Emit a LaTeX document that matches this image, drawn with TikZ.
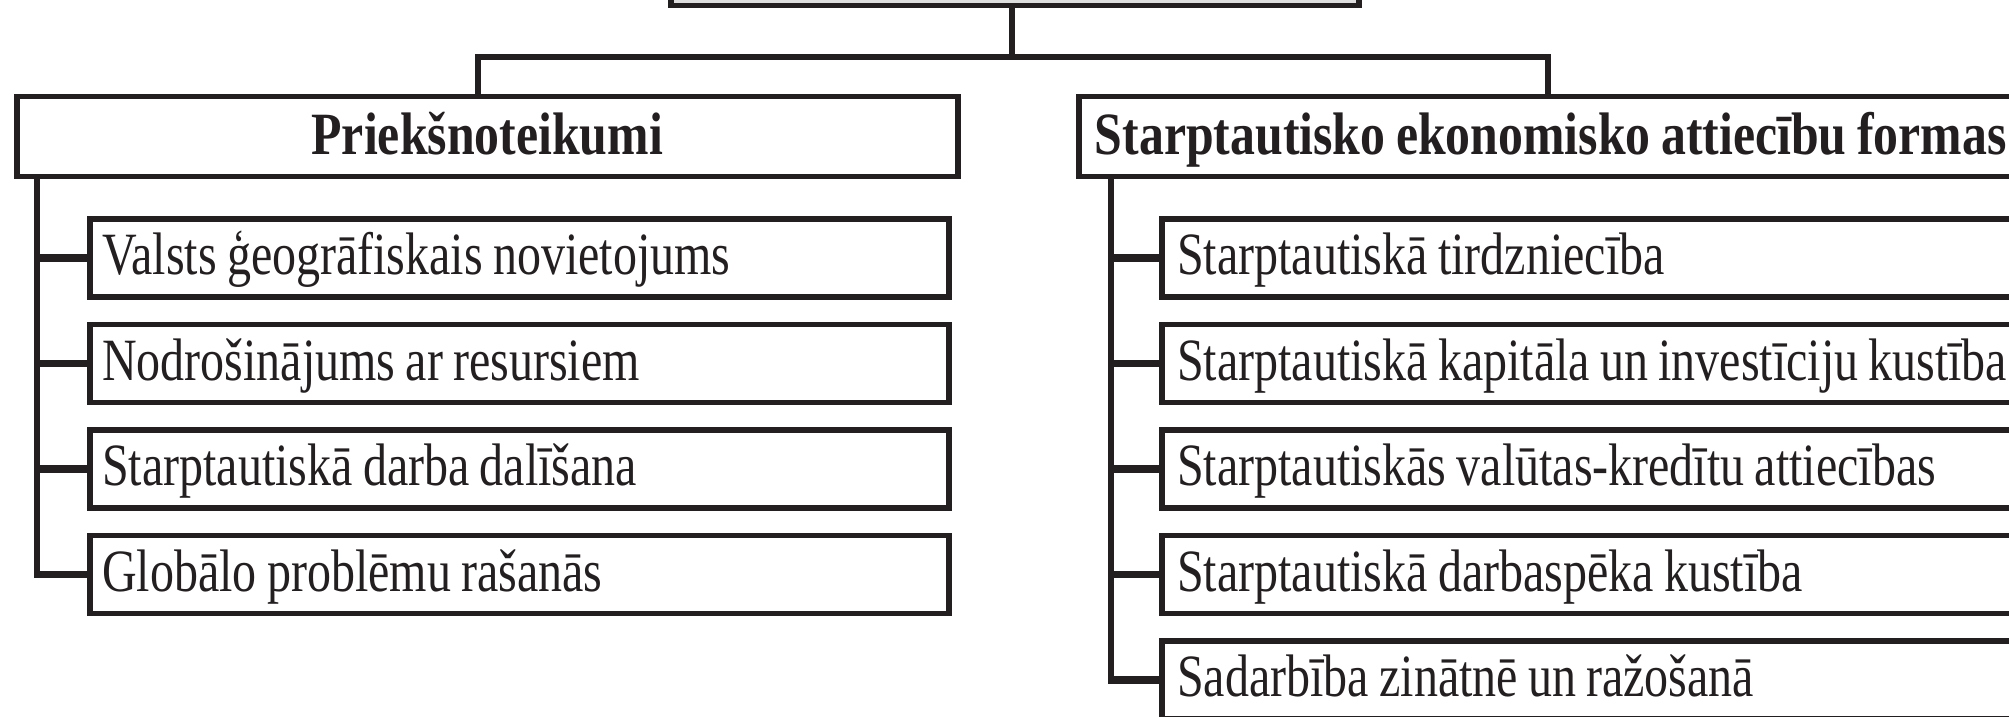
\documentclass[tikz,border=0pt]{standalone}
\usepackage{fontspec}
\setmainfont{Liberation Serif}[FakeStretch=0.8,WordSpace=0.85,BoldFeatures={FakeStretch=0.83,WordSpace=0.85}]
\definecolor{ink}{RGB}{35,31,32}
\definecolor{topfill}{RGB}{222,222,222}
\begin{document}
\begin{tikzpicture}[x=1pt,y=-1pt,
  box/.style={draw=ink,line width=5.5pt,rectangle,minimum height=78pt,anchor=north west,inner sep=0pt},
  hbox/.style={box,minimum height=80pt},
  itemtext/.style={anchor=base west,inner sep=0pt,font=\fontsize{60}{66}\selectfont,text=ink},
  headtext/.style={anchor=base,inner sep=0pt,font=\fontsize{60}{66}\selectfont\bfseries,text=ink},
  wire/.style={draw=ink,line width=5.5pt},
  tick/.style={draw=ink,line width=7.5pt}]
\useasboundingbox (0,0) rectangle (2009,716);
% top box (cropped)
\node[draw=ink,line width=5.5pt,fill=topfill,minimum width=688pt,minimum height=100pt,anchor=south west,inner sep=0pt] (top) at (668,8) {};
% headers
\node[hbox,minimum width=941pt] (lh) at (14,93.5) {};
\node[hbox,minimum width=944pt] (rh) at (1076,93.5) {};
\node[headtext] (lht) at ([yshift=-18pt]lh.center) {Priekšnoteikumi};
\node[headtext] (rht) at ([yshift=-18pt]rh.center) {Starptautisko ekonomisko attiecību formas};
% left items
\foreach \i/\y/\t in {1/216/{Valsts ģeogrāfiskais novietojums},
                      2/321.5/{Nodrošinājums ar resursiem},
                      3/427/{Starptautiskā darba dalīšana},
                      4/532.5/{Globālo problēmu rašanās}}
{
  \node[box,minimum width=859pt] (l\i) at (87,\y) {};
  \node[itemtext] (lt\i) at ([xshift=15pt,yshift=-17pt]l\i.west) {\t};
}
% right items
\foreach \i/\y/\t in {1/216/{Starptautiskā tirdzniecība},
                      2/321.5/{Starptautiskā kapitāla un investīciju kustība},
                      3/427/{Starptautiskās valūtas-kredītu attiecības},
                      4/532.5/{Starptautiskā darbaspēka kustība},
                      5/638/{Sadarbība zinātnē un ražošanā}}
{
  \node[box,minimum width=880pt] (r\i) at (1159,\y) {};
  \node[itemtext] (rt\i) at ([xshift=18pt,yshift=-17pt]r\i.west) {\t};
}
% tree connectors
\coordinate (bar) at (1012,57);
\coordinate (ld) at (478,57);
\coordinate (rd) at (1548,57);
\draw[wire] (top.south -| bar) -- (bar);
\draw[wire] ([xshift=-2.75pt]ld) -- ([xshift=2.75pt]rd);
\draw[wire] (ld) -- (ld |- lh.north);
\draw[wire] (rd) -- (rd |- rh.north);
% spines
\coordinate (ls) at (37,0);
\coordinate (rs) at (1111,0);
\draw[wire] (lh.south -| ls) -- ([yshift=3.75pt]l4.west -| ls);
\draw[wire] (rh.south -| rs) -- ([yshift=3.75pt]r5.west -| rs);
\foreach \i in {1,...,4} \draw[tick] ([xshift=-2.75pt]l\i.west -| ls) -- (l\i.west);
\foreach \i in {1,...,5} \draw[tick] ([xshift=-2.75pt]r\i.west -| rs) -- (r\i.west);
\end{tikzpicture}
\end{document}
